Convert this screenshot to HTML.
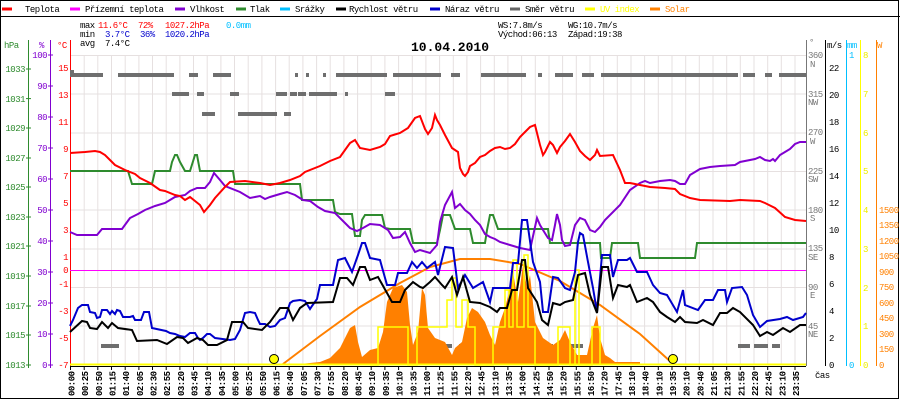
<!DOCTYPE html>
<html><head><meta charset="utf-8"><style>
html,body{margin:0;padding:0;background:#fff;}
svg{display:block;}
text{font-family:"Liberation Mono",monospace;font-size:9px;letter-spacing:-0.5px;}
</style></head><body>
<svg width="900" height="400" viewBox="0 0 900 400" xmlns="http://www.w3.org/2000/svg">
<rect x="0" y="0" width="900" height="400" fill="#fff"/>
<rect x="0.5" y="0.5" width="898" height="398" fill="none" stroke="#000"/>
<line x1="0" y1="16.5" x2="900" y2="16.5" stroke="#000"/>
<!-- legend -->
<g stroke-width="3">
<line x1="2" y1="9" x2="12" y2="9" stroke="#f00"/>
<line x1="70" y1="9" x2="80" y2="9" stroke="#f0f"/>
<line x1="175" y1="9" x2="185" y2="9" stroke="#8000d0"/>
<line x1="236" y1="9" x2="246" y2="9" stroke="#2e8b2e"/>
<line x1="280" y1="9" x2="290" y2="9" stroke="#00bfff"/>
<line x1="336" y1="9" x2="346" y2="9" stroke="#000"/>
<line x1="430" y1="9" x2="440" y2="9" stroke="#00c"/>
<line x1="510" y1="9" x2="520" y2="9" stroke="#666"/>
<line x1="585" y1="9" x2="595" y2="9" stroke="#ff0"/>
<line x1="650" y1="9" x2="660" y2="9" stroke="#ff8000"/>
</g>
<g fill="#000">
<text x="25" y="12">Teplota</text>
<text x="85" y="12">Přízemní teplota</text>
<text x="190" y="12">Vlhkost</text>
<text x="250" y="12">Tlak</text>
<text x="295" y="12">Srážky</text>
<text x="349" y="12">Rychlost větru</text>
<text x="445" y="12">Náraz větru</text>
<text x="525" y="12">Směr větru</text>
<text x="600" y="12" fill="#ff0">UV index</text>
<text x="665" y="12" fill="#ff8000">Solar</text>
</g>
<text x="80" y="28">max</text><text x="98" y="28" fill="#f00">11.6°C</text><text x="138" y="28" fill="#f00">72%</text><text x="165" y="28" fill="#f00">1027.2hPa</text><text x="226" y="28" fill="#00bfff">0.0mm</text>
<text x="80" y="37">min</text><text x="105" y="37" fill="#00c">3.7°C</text><text x="140" y="37" fill="#00c">36%</text><text x="165" y="37" fill="#00c">1020.2hPa</text>
<text x="80" y="46">avg</text><text x="105" y="46">7.4°C</text>
<text x="498" y="28">WS:7.8m/s</text><text x="568" y="28">WG:10.7m/s</text>
<text x="498" y="37">Východ:06:13</text><text x="568" y="37">Západ:19:38</text>
<text x="450" y="51" text-anchor="middle" style="font-size:13px;font-weight:bold;letter-spacing:0">10.04.2010</text>
<!-- grid -->
<g stroke="#e6e0e0">
<line x1="70" y1="55.5" x2="806" y2="55.5"/><line x1="70" y1="94" x2="806" y2="94"/><line x1="70" y1="133" x2="806" y2="133"/><line x1="70" y1="171.5" x2="806" y2="171.5"/><line x1="70" y1="210" x2="806" y2="210"/><line x1="70" y1="249" x2="806" y2="249"/><line x1="70" y1="287.5" x2="806" y2="287.5"/><line x1="70" y1="326" x2="806" y2="326"/>
</g>
<path stroke="#e6e0e0" fill="none" d="M84.2 55V364M97.8 55V364M111.5 55V364M125.2 55V364M138.9 55V364M152.5 55V364M166.2 55V364M179.9 55V364M193.5 55V364M207.2 55V364M220.9 55V364M234.5 55V364M248.2 55V364M261.9 55V364M275.6 55V364M289.2 55V364M302.9 55V364M316.6 55V364M330.2 55V364M343.9 55V364M357.6 55V364M371.2 55V364M384.9 55V364M398.6 55V364M412.3 55V364M425.9 55V364M439.6 55V364M453.3 55V364M466.9 55V364M480.6 55V364M494.3 55V364M507.9 55V364M521.6 55V364M535.3 55V364M549 55V364M562.6 55V364M576.3 55V364M590 55V364M603.6 55V364M617.3 55V364M631 55V364M644.6 55V364M658.3 55V364M672 55V364M685.7 55V364M699.3 55V364M713 55V364M726.7 55V364M740.3 55V364M754 55V364M767.7 55V364M781.3 55V364M795 55V364"/>
<!-- axes left -->
<text x="4" y="48" fill="#2e8b2e">hPa</text>
<text x="39" y="48" fill="#8000d0">%</text>
<text x="57" y="48" fill="#f00">°C</text>
<line x1="28.5" y1="40" x2="28.5" y2="368" stroke="#2e8b2e"/>
<line x1="50.5" y1="40" x2="50.5" y2="368" stroke="#8000d0"/>
<line x1="70.5" y1="40" x2="70.5" y2="368" stroke="#f00"/>
<g fill="#2e8b2e" text-anchor="end">
<text x="25" y="72">1033</text><text x="25" y="102">1031</text><text x="25" y="131">1029</text><text x="25" y="161">1027</text><text x="25" y="190">1025</text><text x="25" y="220">1023</text><text x="25" y="249">1021</text><text x="25" y="279">1019</text><text x="25" y="309">1017</text><text x="25" y="338">1015</text><text x="25" y="368">1013</text>
</g>
<g stroke="#2e8b2e"><line x1="26" x2="31" y1="69" y2="69"/><line x1="26" x2="31" y1="98.6" y2="98.6"/><line x1="26" x2="31" y1="128" y2="128"/><line x1="26" x2="31" y1="158" y2="158"/><line x1="26" x2="31" y1="187" y2="187"/><line x1="26" x2="31" y1="217" y2="217"/><line x1="26" x2="31" y1="246" y2="246"/><line x1="26" x2="31" y1="276" y2="276"/><line x1="26" x2="31" y1="306" y2="306"/><line x1="26" x2="31" y1="335" y2="335"/><line x1="26" x2="31" y1="365" y2="365"/></g>
<g fill="#8000d0" text-anchor="end">
<text x="47" y="58">100</text><text x="47" y="89">90</text><text x="47" y="120">80</text><text x="47" y="151">70</text><text x="47" y="182">60</text><text x="47" y="213">50</text><text x="47" y="244">40</text><text x="47" y="275">30</text><text x="47" y="306">20</text><text x="47" y="337">10</text><text x="47" y="368">0</text>
</g>
<g stroke="#8000d0"><line x1="48" x2="53" y1="55" y2="55"/><line x1="48" x2="53" y1="86" y2="86"/><line x1="48" x2="53" y1="117" y2="117"/><line x1="48" x2="53" y1="148" y2="148"/><line x1="48" x2="53" y1="179" y2="179"/><line x1="48" x2="53" y1="210" y2="210"/><line x1="48" x2="53" y1="241" y2="241"/><line x1="48" x2="53" y1="272" y2="272"/><line x1="48" x2="53" y1="303" y2="303"/><line x1="48" x2="53" y1="334" y2="334"/><line x1="48" x2="53" y1="365" y2="365"/></g>
<g fill="#f00" text-anchor="end">
<text x="68" y="71">15</text><text x="68" y="98">13</text><text x="68" y="125">11</text><text x="68" y="152">9</text><text x="68" y="179">7</text><text x="68" y="206">5</text><text x="68" y="233">3</text><text x="68" y="260">1</text><text x="68" y="273">0</text><text x="68" y="287">-1</text><text x="68" y="314">-3</text><text x="68" y="341">-5</text><text x="68" y="368">-7</text>
</g>
<!-- right axes -->
<line x1="806.5" y1="40" x2="806.5" y2="366" stroke="#777"/>
<line x1="825.5" y1="40" x2="825.5" y2="366" stroke="#000"/>
<line x1="846.5" y1="40" x2="846.5" y2="366" stroke="#00bfff"/>
<line x1="860.5" y1="40" x2="860.5" y2="366" stroke="#ff0"/>
<line x1="876.5" y1="40" x2="876.5" y2="366" stroke="#ff8000"/>
<text x="809" y="45" fill="#777">°</text><text x="827" y="48">m/s</text><text x="847" y="48" fill="#00bfff">mm</text><text x="877" y="48" fill="#ff8000">W</text>
<g fill="#777">
<text x="808" y="58">360</text><text x="810" y="67">N</text>
<text x="808" y="97">315</text><text x="808" y="105">NW</text>
<text x="808" y="135">270</text><text x="810" y="144">W</text>
<text x="808" y="174">225</text><text x="808" y="182">SW</text>
<text x="808" y="213">180</text><text x="810" y="221">S</text>
<text x="808" y="251">135</text><text x="808" y="260">SE</text>
<text x="808" y="290">90</text><text x="810" y="298">E</text>
<text x="808" y="329">45</text><text x="808" y="337">NE</text>
</g>
<g>
<text x="829" y="71">22</text><text x="829" y="98">20</text><text x="829" y="125">18</text><text x="829" y="152">16</text><text x="829" y="179">14</text><text x="829" y="206">12</text><text x="829" y="233">10</text><text x="829" y="260">8</text><text x="829" y="287">6</text><text x="829" y="314">4</text><text x="829" y="341">2</text><text x="829" y="368">0</text>
</g>
<text x="849" y="58" fill="#00bfff">1</text><text x="849" y="368" fill="#00bfff">0</text>
<g fill="#ee0">
<text x="863" y="58">8</text><text x="863" y="97">7</text><text x="863" y="136">6</text><text x="863" y="174">5</text><text x="863" y="213">4</text><text x="863" y="252">3</text><text x="863" y="291">2</text><text x="863" y="329">1</text><text x="863" y="368">0</text>
</g>
<g fill="#ff8000">
<text x="879" y="213">1500</text><text x="879" y="228">1350</text><text x="879" y="244">1200</text><text x="879" y="259">1050</text><text x="879" y="275">900</text><text x="879" y="290">750</text><text x="879" y="306">600</text><text x="879" y="321">450</text><text x="879" y="337">300</text><text x="879" y="352">150</text><text x="879" y="368">0</text>
</g>
<text x="815" y="378">čas</text>
<!-- zero line -->
<line x1="70" y1="270.5" x2="806" y2="270.5" stroke="#f0f"/>
<!-- wind direction -->
<g stroke="#6e6e6e" stroke-width="4">
<line x1="70" y1="72" x2="74" y2="72"/>
<path d="M70 75H103M118 75H174M189 75H198M213 75H231M295 75H298M306 75H309M323 75H326M336 75H387M393 75H441M451 75H460M481 75H526M538 75H542M555 75H573M582 75H594M601 75H738M743 75H755M765 75H772M779 75H806"/>
<path d="M172 94H189M197 94H204M230 94H239M276 94H287M290 94H297M298 94H306M309 94H337M345 94H348M385 94H395"/>
<path d="M202 114H215M238 114H277M284 114H291"/>
<path d="M101 346H119M440 346H452M459 346H480M525 346H537M540 346H553M571 346H583M593 346H601M738 346H750M754 346H768M772 346H780"/>
</g>
<!-- solar fill -->
<polygon fill="#ff8000" points="283,365 300,364 310,363 320,362 330,358 340,348 350,328 355,325 358,342 362,357 370,350 378,348 383,332 387,302 393,288 402,285 407,292 410,325 413,345 418,332 422,288 425,295 428,328 435,338 445,342 452,355 455,348 462,342 467,318 472,308 478,312 485,322 490,335 495,345 500,322 505,308 510,288 513,272 518,302 523,265 527,288 530,275 535,322 543,338 553,345 560,340 565,330 570,342 577,355 587,355 593,328 597,315 600,338 605,355 610,358 615,362 640,362 640,365"/>
<polyline fill="none" stroke="#ff8000" stroke-width="2" points="283,364 320,336 360,307 400,283 430,267 460,259 490,259 520,264 560,281 600,305 640,334 672,363"/>
<!-- UV -->
<polyline fill="none" stroke="#ff0" stroke-width="1.5" points="370,365 378,365 378,327 408,327 408,365 417,365 417,327 447,327 447,300 452,300 452,278 456,278 456,327 462,327 462,300 468,300 468,327 475,327 475,365 493,365 493,327 505,327 505,290 509,290 509,327 513,327 513,260 517,260 517,327 524,327 524,255 528,255 528,327 535,327 535,365 558,365 558,327 570,327 570,365 575,365 575,270 579,270 579,365 592,365 592,327 600,327 600,365"/>
<line x1="70" y1="364.5" x2="806" y2="364.5" stroke="#ff0" stroke-width="2"/>
<line x1="70" y1="366.5" x2="806" y2="366.5" stroke="#000"/>
<circle cx="274" cy="359" r="4.5" fill="#ff0" stroke="#000"/>
<circle cx="673" cy="359" r="4.5" fill="#ff0" stroke="#000"/>
<!-- pressure -->
<polyline fill="none" stroke="#2e8b2e" stroke-width="2" points="70,171 128,171 132,184 152,184 155,171 170,171 172,162 175,155 177,155 180,162 185,171 190,171 195,155 197,155 200,171 233,171 235,184 300,184 302,200 333,200 335,212 340,214 352,214 355,236 360,236 362,220 365,215 382,215 385,228 390,229 410,229 413,243 437,243 440,230 443,215 450,215 455,229 470,229 473,243 485,243 487,230 490,215 493,215 498,229 548,229 550,243 600,243 601,258 610,258 612,243 638,243 640,258 695,258 697,243 806,243"/>
<!-- humidity -->
<polyline fill="none" stroke="#8000d0" stroke-width="2" points="70,232 77,235 97,235 102,229 122,229 130,218 138,214 145,210 155,206 165,203 175,197 185,195 190,191 197,188 205,188 210,182 214,173 220,180 225,186 240,192 250,198 260,196 265,199 270,197 280,194 287,192 295,195 303,200 310,201 318,207 325,211 335,213 345,223 350,228 357,231 363,228 370,224 380,225 388,230 393,238 400,237 405,232 410,243 415,252 420,250 430,253 437,245 440,222 445,205 452,192 455,208 460,204 465,210 470,214 475,220 480,225 485,234 490,237 495,239 500,242 510,245 520,248 530,250 535,227 537,218 540,225 543,230 548,238 552,240 555,225 557,214 560,225 562,240 565,246 570,245 575,225 580,218 585,220 590,230 595,232 600,227 605,220 620,205 630,190 640,183 645,181 650,183 660,181 670,180 675,181 680,184 685,184 690,175 695,172 700,169 705,168 710,167 720,166 735,165 740,162 755,159 760,157 765,160 770,161 773,159 775,161 780,155 785,152 790,149 795,144 800,142 806,142"/>
<!-- temperature -->
<polyline fill="none" stroke="#f00" stroke-width="2" points="70,153 85,152 95,151 100,152 105,155 110,160 115,165 125,170 135,174 140,178 150,183 160,190 165,191 175,195 180,196 185,200 190,197 200,205 204,212 210,205 215,198 225,187 230,182 245,181 260,183 270,185 280,183 290,180 300,176 305,172 320,166 330,161 340,157 350,143 355,140 360,148 370,150 380,147 385,144 390,136 400,133 408,128 415,118 420,116 425,129 428,134 432,128 435,115 437,120 440,125 445,135 452,148 458,152 460,168 463,174 465,176 468,172 470,166 475,163 480,157 485,155 490,151 495,148 500,147 505,149 510,148 515,144 520,137 525,132 530,127 535,125 537,133 540,145 543,155 545,152 550,142 553,145 557,153 560,147 565,141 570,134 575,142 580,151 585,156 590,160 595,155 597,150 600,156 613,155 620,170 625,183 630,183 640,185 650,187 665,188 675,189 680,194 690,198 700,200 730,201 740,200 760,201 765,203 775,208 785,217 795,220 806,221"/>
<!-- gust -->
<polyline fill="none" stroke="#00c" stroke-width="2" points="70,326 73,320 78,308 82,305 88,305 90,312 95,313 97,318 100,317 102,310 107,310 110,314 112,311 115,314 117,310 120,311 123,317 130,317 133,316 135,320 141,320 144,312 149,312 152,328 166,331 170,333 175,334 180,336 185,337 190,333 195,333 198,338 200,340 203,338 207,334 210,334 215,338 230,340 235,339 240,330 245,313 250,312 255,313 258,320 260,324 265,324 270,327 275,326 280,320 285,318 290,303 293,301 300,300 305,301 310,309 312,306 317,299 320,285 333,285 338,260 345,258 352,272 358,255 362,243 365,243 370,258 380,260 387,285 395,285 398,273 407,273 412,262 417,268 422,262 427,268 435,262 438,275 445,247 453,248 458,288 465,275 473,288 483,282 490,302 493,288 510,288 513,263 518,263 522,220 527,220 533,262 540,282 543,312 548,312 553,277 558,278 565,288 570,290 575,272 578,242 580,233 583,235 588,262 593,288 597,312 602,255 610,255 613,277 618,260 627,260 630,258 637,272 647,272 653,285 660,293 667,295 677,312 683,290 685,305 698,310 705,300 713,300 718,290 725,290 727,302 732,288 742,287 747,295 753,315 760,327 767,321 780,319 787,317 793,320 803,317 806,313"/>
<!-- speed -->
<polyline fill="none" stroke="#000" stroke-width="2" points="70,332 82,321 87,322 90,328 97,329 102,322 108,328 112,323 118,328 132,330 137,341 157,340 167,344 177,337 183,338 188,343 197,338 203,340 208,345 217,345 227,340 232,322 243,322 248,328 262,330 270,322 280,308 288,308 293,320 300,308 307,303 333,302 340,278 347,278 353,285 360,267 365,267 370,280 378,277 387,293 392,302 400,302 405,290 413,282 420,287 423,288 430,282 435,277 442,285 445,288 452,277 457,295 463,277 470,302 480,303 490,307 497,312 500,308 507,308 512,290 517,290 522,260 525,260 528,288 537,302 542,320 548,325 553,303 560,305 565,302 573,300 578,275 585,273 590,295 597,313 602,267 608,267 613,298 618,285 627,287 630,285 637,302 647,298 653,302 660,312 667,317 675,322 680,317 685,322 697,323 703,320 713,325 720,313 727,313 733,308 740,312 753,325 760,336 767,332 773,335 783,328 790,332 800,325 806,325"/>
<!-- x ticks -->
<path stroke="#000" d="M70.5 366V370M84.2 366V370M97.8 366V370M111.5 366V370M125.2 366V370M138.9 366V370M152.5 366V370M166.2 366V370M179.9 366V370M193.5 366V370M207.2 366V370M220.9 366V370M234.5 366V370M248.2 366V370M261.9 366V370M275.6 366V370M289.2 366V370M302.9 366V370M316.6 366V370M330.2 366V370M343.9 366V370M357.6 366V370M371.2 366V370M384.9 366V370M398.6 366V370M412.3 366V370M425.9 366V370M439.6 366V370M453.3 366V370M466.9 366V370M480.6 366V370M494.3 366V370M507.9 366V370M521.6 366V370M535.3 366V370M549 366V370M562.6 366V370M576.3 366V370M590 366V370M603.6 366V370M617.3 366V370M631 366V370M644.6 366V370M658.3 366V370M672 366V370M685.7 366V370M699.3 366V370M713 366V370M726.7 366V370M740.3 366V370M754 366V370M767.7 366V370M781.3 366V370M795 366V370"/>
<g font-weight="bold">
<text transform="translate(74.5,396) rotate(-90)">00:00</text>
<text transform="translate(88.2,396) rotate(-90)">00:25</text>
<text transform="translate(101.8,396) rotate(-90)">00:50</text>
<text transform="translate(115.5,396) rotate(-90)">01:15</text>
<text transform="translate(129.2,396) rotate(-90)">01:40</text>
<text transform="translate(142.9,396) rotate(-90)">02:05</text>
<text transform="translate(156.5,396) rotate(-90)">02:30</text>
<text transform="translate(170.2,396) rotate(-90)">02:55</text>
<text transform="translate(183.9,396) rotate(-90)">03:20</text>
<text transform="translate(197.5,396) rotate(-90)">03:45</text>
<text transform="translate(211.2,396) rotate(-90)">04:10</text>
<text transform="translate(224.9,396) rotate(-90)">04:35</text>
<text transform="translate(238.5,396) rotate(-90)">05:00</text>
<text transform="translate(252.2,396) rotate(-90)">05:25</text>
<text transform="translate(265.9,396) rotate(-90)">05:50</text>
<text transform="translate(279.6,396) rotate(-90)">06:15</text>
<text transform="translate(293.2,396) rotate(-90)">06:40</text>
<text transform="translate(306.9,396) rotate(-90)">07:05</text>
<text transform="translate(320.6,396) rotate(-90)">07:30</text>
<text transform="translate(334.2,396) rotate(-90)">07:55</text>
<text transform="translate(347.9,396) rotate(-90)">08:20</text>
<text transform="translate(361.6,396) rotate(-90)">08:45</text>
<text transform="translate(375.2,396) rotate(-90)">09:10</text>
<text transform="translate(388.9,396) rotate(-90)">09:35</text>
<text transform="translate(402.6,396) rotate(-90)">10:10</text>
<text transform="translate(416.3,396) rotate(-90)">10:35</text>
<text transform="translate(429.9,396) rotate(-90)">11:00</text>
<text transform="translate(443.6,396) rotate(-90)">11:25</text>
<text transform="translate(457.3,396) rotate(-90)">11:55</text>
<text transform="translate(470.9,396) rotate(-90)">12:20</text>
<text transform="translate(484.6,396) rotate(-90)">12:45</text>
<text transform="translate(498.3,396) rotate(-90)">13:10</text>
<text transform="translate(511.9,396) rotate(-90)">13:35</text>
<text transform="translate(525.6,396) rotate(-90)">14:00</text>
<text transform="translate(539.3,396) rotate(-90)">14:25</text>
<text transform="translate(553,396) rotate(-90)">14:50</text>
<text transform="translate(566.6,396) rotate(-90)">15:20</text>
<text transform="translate(580.3,396) rotate(-90)">15:55</text>
<text transform="translate(594,396) rotate(-90)">16:50</text>
<text transform="translate(607.6,396) rotate(-90)">17:20</text>
<text transform="translate(621.3,396) rotate(-90)">17:45</text>
<text transform="translate(635,396) rotate(-90)">18:10</text>
<text transform="translate(648.6,396) rotate(-90)">18:40</text>
<text transform="translate(662.3,396) rotate(-90)">19:10</text>
<text transform="translate(676,396) rotate(-90)">19:35</text>
<text transform="translate(689.7,396) rotate(-90)">20:10</text>
<text transform="translate(703.3,396) rotate(-90)">20:40</text>
<text transform="translate(717,396) rotate(-90)">21:05</text>
<text transform="translate(730.7,396) rotate(-90)">21:30</text>
<text transform="translate(744.3,396) rotate(-90)">21:55</text>
<text transform="translate(758,396) rotate(-90)">22:20</text>
<text transform="translate(771.7,396) rotate(-90)">22:45</text>
<text transform="translate(785.3,396) rotate(-90)">23:10</text>
<text transform="translate(799,396) rotate(-90)">23:35</text>
</g>
</svg>
</body></html>
